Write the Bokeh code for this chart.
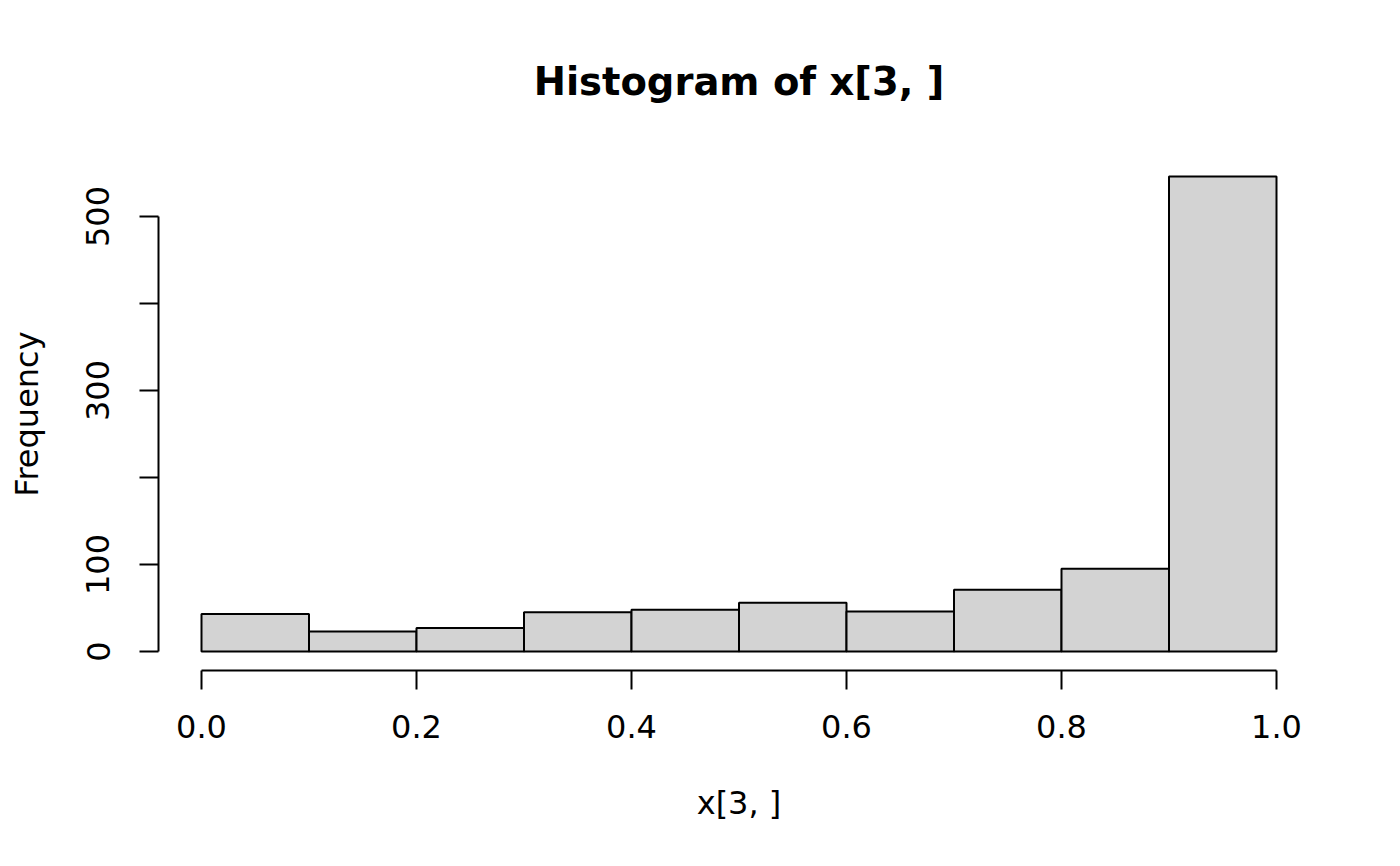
from bokeh.plotting import figure
from bokeh.models import Range1d, FixedTicker
from bokeh.embed import file_html
from bokeh.resources import INLINE

# ---- data ----
bin_edges = [0.0, 0.1, 0.2, 0.3, 0.4, 0.5, 0.6, 0.7, 0.8, 0.9, 1.0]
counts = [43, 23, 27, 45, 48, 56, 46, 71, 95, 546]
x_ticks = [0.0, 0.2, 0.4, 0.6, 0.8, 1.0]
x_tick_labels = ["0.0", "0.2", "0.4", "0.6", "0.8", "1.0"]
y_ticks = [0, 100, 200, 300, 400, 500]
y_tick_labels = ["0", "100", "", "300", "", "500"]
title_text = "Histogram of x[3, ]"
x_label = "x[3, ]"
y_label = "Frequency"

FONT = "DejaVu Sans"

ymax = max(counts)
p = figure(
    width=1384, height=850,
    output_backend="svg", toolbar_location=None,
    x_range=Range1d(-0.04, 1.04),
    y_range=Range1d(-0.04 * ymax, 1.04 * ymax),
    min_border_left=158, min_border_right=65,
    min_border_top=157, min_border_bottom=180,
)
p.background_fill_color = "white"
p.border_fill_color = "white"
p.outline_line_color = None
p.grid.visible = False

p.quad(left=bin_edges[:-1], right=bin_edges[1:], bottom=0, top=counts,
       fill_color="#d3d3d3", line_color="black", line_width=2)

# title
p.title.text = title_text
p.title.align = "center"
p.title.text_font = FONT
p.title.text_font_size = "38.5px"
p.title.text_font_style = "bold"
p.title.text_color = "black"
p.title.standoff = 108

def style_axis(ax):
    ax.major_tick_out = 19
    ax.major_tick_in = 0
    ax.minor_tick_out = 0
    ax.minor_tick_in = 0
    ax.axis_line_width = 2
    ax.axis_line_color = "black"
    ax.major_tick_line_width = 2
    ax.major_tick_line_color = "black"
    ax.major_label_text_font = FONT
    ax.major_label_text_font_size = "32px"
    ax.major_label_text_color = "black"
    ax.axis_label_text_font = FONT
    ax.axis_label_text_font_size = "32px"
    ax.axis_label_text_font_style = "normal"
    ax.axis_label_text_color = "black"

xa = p.xaxis[0]
style_axis(xa)
xa.ticker = FixedTicker(ticks=x_ticks)
xa.major_label_overrides = {t: l for t, l in zip(x_ticks, x_tick_labels)}
xa.bounds = (x_ticks[0], x_ticks[-1])
xa.major_label_standoff = 25
xa.axis_label = x_label
xa.axis_label_standoff = 43

ya = p.yaxis[0]
style_axis(ya)
ya.ticker = FixedTicker(ticks=y_ticks)
ya.major_label_overrides = {t: l for t, l in zip(y_ticks, y_tick_labels)}
ya.bounds = (y_ticks[0], y_ticks[-1])
ya.major_label_orientation = "vertical"
ya.major_label_standoff = 30
ya.axis_label = y_label
ya.axis_label_standoff = 38

open("out.html", "w").write(file_html(p, INLINE))
